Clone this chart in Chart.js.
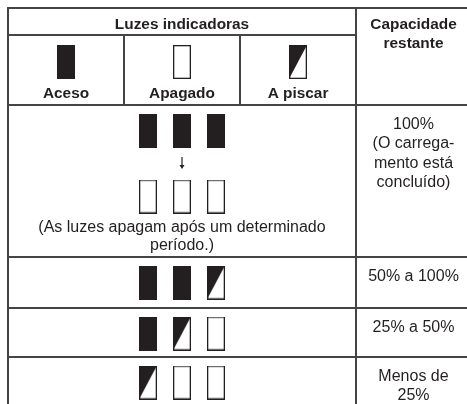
<!DOCTYPE html>
<html><head><meta charset="utf-8">
<script src="https://cdn.jsdelivr.net/npm/chart.js@4/dist/chart.umd.min.js"></script>
<style>html,body{margin:0;padding:0;background:#fff}#wrap{width:467px;height:404px;position:relative}</style>
</head><body><div id="wrap"><canvas id="c"></canvas></div>
<script>
// ---- data ----
const stateKeys = ['on', 'off', 'blink'];
const stateNames = ['Aceso', 'Apagado', 'A piscar'];
const headerTitles = ['Luzes indicadoras', ['Capacidade', 'restante']];
const rowLights = [
  [['on', 'on', 'on'], ['off', 'off', 'off']],
  [['on', 'on', 'blink']],
  [['on', 'blink', 'off']],
  [['blink', 'off', 'off']]
];
const rowNote = ['(As luzes apagam após um determinado', 'período.)'];
const capacityLabels = [
  ['100%', '(O carrega-', 'mento está', 'concluído)'],
  ['50% a 100%'],
  ['25% a 50%'],
  ['Menos de', '25%']
];

// ---- layout (positions/sizes, in scale units) ----
const L = {
  cols: [8, 124, 240, 356, 471],
  rows: [8, 35, 105, 257, 308, 357, 412],
  lightX: [148, 182, 216],
  stateIconY: 62, stateLabelY: 98,
  iconOffset: 25.5, secondSetOffset: 66,
  arrowY: [157, 169],
  noteY: [232, 250],
  capOffset: 23.5, capLine: 19.5,
  headY: [29, 48],
  boxW: 18, boxH: 34
};
const INK = '#231f20', RULE = '#444444';
const FONT = '"Liberation Sans", Arial, sans-serif';

function makeIcon(kind) {
  const c = document.createElement('canvas');
  c.width = L.boxW; c.height = L.boxH;
  const g = c.getContext('2d');
  const w = L.boxW, h = L.boxH;
  g.fillStyle = '#fff'; g.fillRect(0, 0, w, h);
  g.fillStyle = INK;
  if (kind === 'on') { g.fillRect(0, 0, w, h); }
  if (kind === 'blink') {
    g.beginPath(); g.moveTo(0, 0); g.lineTo(w, 0); g.lineTo(0, h); g.closePath(); g.fill();
  }
  if (kind !== 'on') {
    g.strokeStyle = INK; g.lineWidth = 1.3; g.strokeRect(0.65, 0.65, w - 1.3, h - 1.3);
  }
  return c;
}
const icons = {}; stateKeys.forEach(k => icons[k] = makeIcon(k));

const colCenter = i => (L.cols[i] + L.cols[i + 1]) / 2;

// build points per state
const pts = { on: [], off: [], blink: [] };
stateKeys.forEach((k, i) => pts[k].push({ x: colCenter(i), y: L.stateIconY }));
rowLights.forEach((sets, r) => {
  const top = L.rows[r + 2];
  sets.forEach((set, s) => {
    const y = top + L.iconOffset + s * L.secondSetOffset;
    set.forEach((k, j) => pts[k].push({ x: L.lightX[j], y }));
  });
});

const tablePlugin = {
  id: 'table',
  beforeDatasetsDraw(chart) {
    const { ctx, scales: { x, y } } = chart;
    const X = v => x.getPixelForValue(v), Y = v => y.getPixelForValue(v);
    ctx.save();
    ctx.strokeStyle = RULE; ctx.lineWidth = 2;
    const h = (y0, x0, x1) => { ctx.beginPath(); ctx.moveTo(X(x0) - 1, Y(y0)); ctx.lineTo(X(x1) + 1, Y(y0)); ctx.stroke(); };
    const v = (x0, y0, y1) => { ctx.beginPath(); ctx.moveTo(X(x0), Y(y0) - 1); ctx.lineTo(X(x0), Y(y1) + 1); ctx.stroke(); };
    const C = L.cols, R = L.rows;
    [0, 2, 3, 4, 5, 6].forEach(i => h(R[i], C[0], C[4]));
    h(R[1], C[0], C[3]);
    v(C[0], R[0], R[6]); v(C[3], R[0], R[6]); v(C[4], R[0], R[6]);
    v(C[1], R[1], R[2]); v(C[2], R[1], R[2]);
    // arrow
    const ax = X(L.lightX[1]);
    ctx.strokeStyle = INK; ctx.lineWidth = 1.2;
    ctx.beginPath(); ctx.moveTo(ax, Y(L.arrowY[0])); ctx.lineTo(ax, Y(L.arrowY[1]) - 3); ctx.stroke();
    ctx.fillStyle = INK;
    ctx.beginPath(); ctx.moveTo(ax - 2.5, Y(L.arrowY[1]) - 4); ctx.lineTo(ax + 2.5, Y(L.arrowY[1]) - 4); ctx.lineTo(ax, Y(L.arrowY[1])); ctx.closePath(); ctx.fill();

    // text
    ctx.fillStyle = INK; ctx.textAlign = 'center'; ctx.textBaseline = 'alphabetic';
    ctx.font = 'bold 15.4px ' + FONT;
    ctx.fillText(headerTitles[0], X((C[0] + C[3]) / 2), Y(L.headY[0]));
    headerTitles[1].forEach((t, i) => ctx.fillText(t, X(colCenter(3)), Y(L.headY[i])));
    stateNames.forEach((t, i) => ctx.fillText(t, X(colCenter(i)), Y(L.stateLabelY)));
    ctx.font = '16px ' + FONT;
    rowNote.forEach((t, i) => ctx.fillText(t, X((C[0] + C[3]) / 2), Y(L.noteY[i])));
    capacityLabels.forEach((lines, r) => {
      lines.forEach((t, i) => ctx.fillText(t, X(colCenter(3)), Y(R[r + 2] + L.capOffset + i * L.capLine)));
    });
    ctx.restore();
  }
};

new Chart(document.getElementById('c'), {
  type: 'scatter',
  data: {
    datasets: stateKeys.map(k => ({
      label: k, data: pts[k], pointStyle: icons[k], pointRadius: 10, clip: false
    }))
  },
  options: {
    responsive: true, maintainAspectRatio: false, animation: false, events: [],
    layout: { padding: 0, autoPadding: false },
    plugins: { legend: { display: false }, tooltip: { enabled: false } },
    scales: {
      x: { type: 'linear', min: 0, max: 467, display: false },
      y: { type: 'linear', min: 0, max: 404, reverse: true, display: false }
    }
  },
  plugins: [tablePlugin]
});
</script></body></html>
